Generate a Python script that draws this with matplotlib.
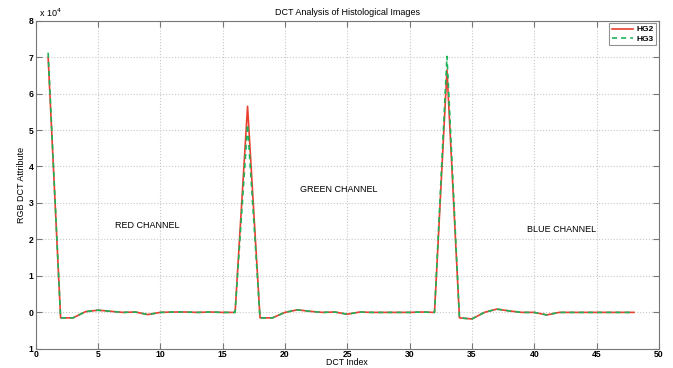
import matplotlib
matplotlib.use("Agg")
import matplotlib.pyplot as plt
import numpy as np

plt.rcParams['font.family'] = ['Liberation Sans', 'DejaVu Sans']

dct_index = list(range(1, 49))
# values in units of 1e4
hg2 = [7.00, -0.15, -0.15, 0.02, 0.06, 0.03, 0.00, 0.01, -0.06, 0.00,
       0.01, 0.01, 0.00, 0.01, 0.00, 0.00, 5.65, -0.15, -0.15, 0.00,
       0.07, 0.03, 0.00, 0.01, -0.05, 0.01, 0.00, 0.00, 0.00, 0.00,
       0.01, 0.00, 6.65, -0.15, -0.18, 0.00, 0.09, 0.04, 0.00, 0.00,
       -0.07, 0.00, 0.00, 0.00, 0.00, 0.00, 0.00, 0.00]
hg3 = [7.12, -0.15, -0.15, 0.02, 0.06, 0.03, 0.00, 0.01, -0.06, 0.00,
       0.01, 0.01, 0.00, 0.01, 0.00, 0.00, 5.15, -0.15, -0.15, 0.00,
       0.07, 0.03, 0.00, 0.01, -0.05, 0.01, 0.00, 0.00, 0.00, 0.00,
       0.01, 0.00, 7.02, -0.15, -0.18, 0.00, 0.09, 0.04, 0.00, 0.00,
       -0.07, 0.00, 0.00, 0.00, 0.00, 0.00, 0.00, 0.00]
y_ticks = [-1, 0, 1, 2, 3, 4, 5, 6, 7, 8]
y_ticklabels = ['1', '0', '1', '2', '3', '4', '5', '6', '7', '8']
x_ticks = [0, 5, 10, 15, 20, 25, 30, 35, 40, 45, 50]
annotations = [("RED CHANNEL", 6.4, 2.37), ("GREEN CHANNEL", 21.2, 3.38), ("BLUE CHANNEL", 39.4, 2.26)]

fig = plt.figure(figsize=(6.73, 3.68), dpi=100)
ax = fig.add_axes([0.053, 0.052, 0.926, 0.892])

ax.plot(dct_index, hg2, color='#e8402f', lw=1.2, label='HG2')
ax.plot(dct_index, hg3, color='#1db35b', lw=1.2, ls=(0, (3, 2.5)), label='HG3')

ax.set_xlim(0, 50)
ax.set_ylim(-1, 8)
ax.set_xticks(x_ticks)
ax.set_yticks(y_ticks)
ax.set_yticklabels(y_ticklabels)
ax.tick_params(direction='in', top=True, right=True, labelsize=6.2, length=4,
               color='#777777', pad=1.5)
ax.tick_params(axis='x', pad=0.8)
for lab in ax.get_xticklabels() + ax.get_yticklabels():
    lab.set_fontweight('bold')
for s in ax.spines.values():
    s.set_color('#777777')
    s.set_linewidth(0.8)
ax.grid(True, ls=':', color='#c8c8c8', lw=0.8)

ax.set_title('DCT Analysis of Histological Images', fontsize=6.5, pad=4)
ax.set_xlabel('DCT Index', fontsize=6.3, labelpad=-0.5)
ax.set_ylabel('RGB DCT Attribute', fontsize=6.5, labelpad=2)
ax.text(0.3, 8.05, 'x 10$^4$', fontsize=6.5, va='bottom', ha='left')

for txt, x, y in annotations:
    ax.text(x, y, txt, fontsize=6.5, ha='left', va='center')

leg = ax.legend(loc='upper right', fontsize=6, frameon=True, fancybox=False,
                handlelength=2.6, borderpad=0.3, labelspacing=0.2,
                handletextpad=0.4, borderaxespad=0.3)
leg.get_frame().set_edgecolor('#777777')
leg.get_frame().set_linewidth(0.8)
for t in leg.get_texts():
    t.set_fontweight('bold')

fig.savefig('out.png', dpi=100)
